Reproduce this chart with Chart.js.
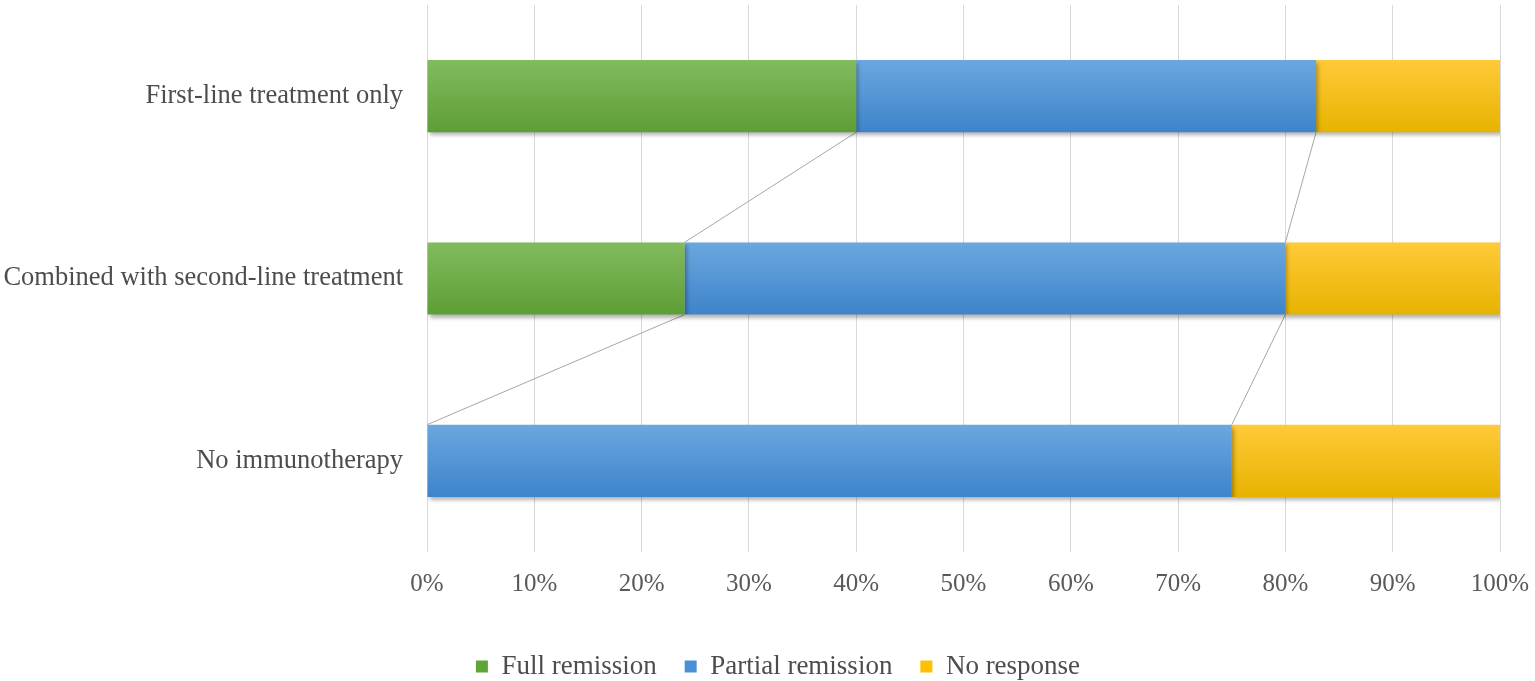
<!DOCTYPE html>
<html>
<head>
<meta charset="utf-8">
<script src="https://cdn.jsdelivr.net/npm/chart.js@4.4.1/dist/chart.umd.min.js"></script>
<style>
  html, body { margin: 0; padding: 0; background: #fff; }
  #wrap { width: 1535px; height: 681px; }
</style>
</head>
<body>
<div id="wrap"><canvas id="barChart" width="1535" height="681"></canvas></div>
<script>
// data (percent of patients)
const categories = ["First-line treatment only", "Combined with second-line treatment", "No immunotherapy"];
const seriesNames = ["Full remission", "Partial remission", "No response"];
const fullRemission = [40, 24, 0];
const partialRemission = [42.86, 56, 75];
const noResponse = [17.14, 20, 25];
const tickLabels = ["0%", "10%", "20%", "30%", "40%", "50%", "60%", "70%", "80%", "90%", "100%"];

// colours: [top of bar, bottom of bar, legend box]
const palette = [
  ["#82bb5f", "#5d9e35", "#5fa53a"],
  ["#6ba7df", "#3d84cb", "#4a8fd6"],
  ["#ffca38", "#e7b300", "#ffc000"]
];

const BAR_PCT = 0.396;
const SERIF = "'Liberation Serif', 'Times New Roman', serif";

function barGradient(i) {
  return function (context) {
    const chart = context.chart;
    if (!chart.chartArea || !chart.scales.y) return palette[i][2];
    const yScale = chart.scales.y;
    const center = yScale.getPixelForValue(context.dataIndex);
    const band = (chart.chartArea.bottom - chart.chartArea.top) / categories.length;
    const half = band * BAR_PCT / 2;
    const g = chart.ctx.createLinearGradient(0, center - half, 0, center + half);
    g.addColorStop(0, palette[i][0]);
    g.addColorStop(1, palette[i][1]);
    return g;
  };
}

// Excel-style series lines between stacked bars
const seriesLines = {
  id: "seriesLines",
  beforeDatasetsDraw(chart) {
    const ctx = chart.ctx;
    ctx.save();
    ctx.strokeStyle = "#a6a6a6";
    ctx.lineWidth = 1;
    for (let d = 0; d < 2; d++) {
      const meta = chart.getDatasetMeta(d);
      for (let j = 0; j < meta.data.length - 1; j++) {
        const a = meta.data[j], b = meta.data[j + 1];
        ctx.beginPath();
        ctx.moveTo(a.x, a.y + a.height / 2);
        ctx.lineTo(b.x, b.y - b.height / 2);
        ctx.stroke();
      }
    }
    ctx.restore();
  }
};

const barShadow = {
  id: "barShadow",
  beforeDatasetDraw(chart) {
    const ctx = chart.ctx;
    ctx.save();
    ctx.shadowColor = "rgba(0,0,0,0.3)";
    ctx.shadowBlur = 4;
    ctx.shadowOffsetX = 2;
    ctx.shadowOffsetY = 3;
  },
  afterDatasetDraw(chart) {
    chart.ctx.restore();
  }
};

// nudge the legend to where it sits in the original
const legendNudge = {
  id: "legendNudge",
  afterLayout(chart) {
    const lg = chart.legend;
    lg.left += 28; lg.right += 28;
    lg.top += 9; lg.bottom += 9;
  }
};

const values = [fullRemission, partialRemission, noResponse];

const ctx = document.getElementById("barChart").getContext("2d");
new Chart(ctx, {
  type: "bar",
  data: {
    labels: categories,
    datasets: seriesNames.map((name, i) => ({
      label: name,
      data: values[i],
      backgroundColor: barGradient(i),
      borderWidth: 0,
      categoryPercentage: 1,
      barPercentage: BAR_PCT
    }))
  },
  options: {
    indexAxis: "y",
    responsive: false,
    animation: false,
    layout: { padding: { top: 5, right: 35, bottom: 0, left: 0 } },
    plugins: {
      legend: {
        position: "bottom",
        labels: {
          font: { family: SERIF, size: 27 },
          color: "#4d4d4d",
          boxWidth: 12,
          boxHeight: 12,
          padding: 28,
          generateLabels() {
            return seriesNames.map((name, i) => ({
              text: name,
              fillStyle: palette[i][2],
              strokeStyle: palette[i][2],
              fontColor: "#4d4d4d",
              lineWidth: 0,
              datasetIndex: i
            }));
          }
        }
      },
      tooltip: { enabled: false }
    },
    scales: {
      x: {
        stacked: true,
        min: 0,
        max: 100,
        border: { display: false },
        grid: { color: "#d9d9d9", lineWidth: 1, drawTicks: false },
        ticks: {
          stepSize: 10,
          padding: 17,
          maxRotation: 0,
          color: "#595959",
          font: { family: SERIF, size: 25 },
          callback: (v, idx) => tickLabels[idx]
        },
        afterFit(scale) {
          scale.height = 64;
          scale.paddingLeft = 0;
          scale.paddingRight = 0;
        }
      },
      y: {
        stacked: true,
        border: { display: false },
        grid: { display: false, drawTicks: false },
        ticks: {
          padding: 24,
          color: "#4d4d4d",
          font: { family: SERIF, size: 26.5 }
        },
        afterFit(scale) {
          scale.width = 427;
          scale.paddingTop = 0;
          scale.paddingBottom = 0;
        }
      }
    }
  },
  plugins: [seriesLines, barShadow, legendNudge]
});
</script>
</body>
</html>
